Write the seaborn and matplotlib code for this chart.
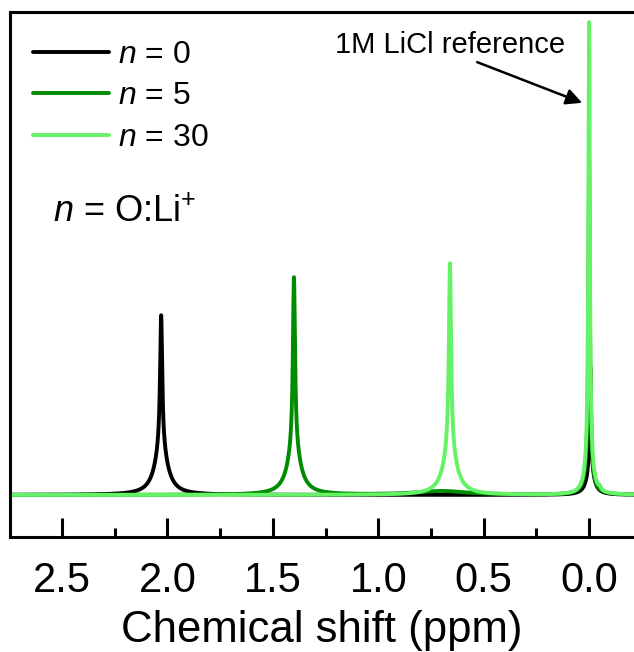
import numpy as np
import pandas as pd
import matplotlib
matplotlib.use("Agg")
import matplotlib.pyplot as plt
import seaborn as sns

# ---- data ----
series = ["n = 0", "n = 5", "n = 30"]
legend_labels = ["$n$ = 0", "$n$ = 5", "$n$ = 30"]
colors = ["#000000", "#008c00", "#66f266"]
# peak components per series: centre (ppm), height (ref = 1), half-width (ppm)
centers_n0 = [2.03, 2.03, -0.006, -0.006]
heights_n0 = [0.28, 0.10, 0.22, 0.05]
widths_n0 = [0.006, 0.035, 0.004, 0.02]

centers_n5 = [1.40, 1.40, 0.0, 0.0, 0.70]
heights_n5 = [0.36, 0.10, 0.65, 0.06, 0.008]
widths_n5 = [0.006, 0.035, 0.004, 0.02, 0.15]

centers_n30 = [0.66, 0.66, 0.0, 0.0, -0.05]
heights_n30 = [0.39, 0.10, 0.93, 0.07, 0.006]
widths_n30 = [0.006, 0.035, 0.004, 0.02, 0.005]

xticks = [2.5, 2.0, 1.5, 1.0, 0.5, 0.0]
xtick_labels = ["2.5", "2.0", "1.5", "1.0", "0.5", "0.0"]
minor_ticks = [2.25, 1.75, 1.25, 0.75, 0.25]

ppm_min, ppm_max = -0.22, 2.76

sns.set_style("white")
plt.rcParams["font.family"] = ["Liberation Sans", "DejaVu Sans"]
plt.rcParams["mathtext.fontset"] = "custom"
plt.rcParams["mathtext.rm"] = "Liberation Sans"
plt.rcParams["mathtext.it"] = "Liberation Sans:italic"
plt.rcParams["text.color"] = "black"
plt.rcParams["xtick.color"] = "black"
plt.rcParams["axes.labelcolor"] = "black"

ppm = np.linspace(ppm_max, ppm_min, 9000)

def spectrum(cs, hs, ws):
    y = np.zeros_like(ppm)
    for c, h, w in zip(cs, hs, ws):
        y += h / (1.0 + ((ppm - c) / w) ** 2)
    return y

frames = []
for name, cs, hs, ws in zip(series,
                            [centers_n0, centers_n5, centers_n30],
                            [heights_n0, heights_n5, heights_n30],
                            [widths_n0, widths_n5, widths_n30]):
    frames.append(pd.DataFrame({"ppm": ppm, "intensity": spectrum(cs, hs, ws), "series": name}))
df = pd.concat(frames, ignore_index=True)

fig = plt.figure(figsize=(6.34, 6.52), dpi=100)
ax = fig.add_axes([10 / 634, 1 - 537 / 652, 1 - 10 / 634, 525 / 652])

sns.lineplot(data=df, x="ppm", y="intensity", hue="series", hue_order=series,
             palette=colors, estimator=None, sort=False, linewidth=2.8, legend=False, ax=ax)

ax.set_xlim(2.747, -0.213)
ax.set_ylim(-0.089, 1.021)
ax.set_yticks([])
ax.set_ylabel("")
ax.set_xticks(xticks)
ax.set_xticklabels(xtick_labels)
ax.set_xticks(minor_ticks, minor=True)
ax.tick_params(axis="x", which="major", direction="in", length=14, width=2.2,
               labelsize=30, pad=17, bottom=True, colors="black")
ax.tick_params(axis="x", which="minor", direction="in", length=6.5, width=2.2, bottom=True)
ax.set_xlabel("Chemical shift (ppm)", fontsize=31.5, labelpad=7, color="black")
for s in ["left", "bottom", "top"]:
    ax.spines[s].set_linewidth(2.2)
    ax.spines[s].set_color("black")
ax.spines["right"].set_visible(False)

leg = ax.legend(handles=ax.lines[:3], labels=legend_labels,
                loc="upper left", bbox_to_anchor=(33 / 634, 1 - 40 / 652),
                bbox_transform=fig.transFigure, frameon=False, fontsize=23,
                handlelength=2.375, handletextpad=0.28, labelspacing=0.36, borderpad=0,
                borderaxespad=0)
for t in leg.get_texts():
    t.set_color("black")

fig.text(53 / 634, 1 - 212 / 652, "$n$ = O:Li$^{+}$", fontsize=26, va="center", ha="left",
         color="black")

ax.text(0.66, 0.952, "1M LiCl reference", fontsize=21, ha="center", va="center", color="black")
ax.annotate("", xy=(0.033, 0.829), xytext=(0.531, 0.915),
            arrowprops=dict(arrowstyle="-|>", color="black", lw=1.8, mutation_scale=24,
                            shrinkA=0, shrinkB=0))

fig.savefig("out.png", dpi=100)
